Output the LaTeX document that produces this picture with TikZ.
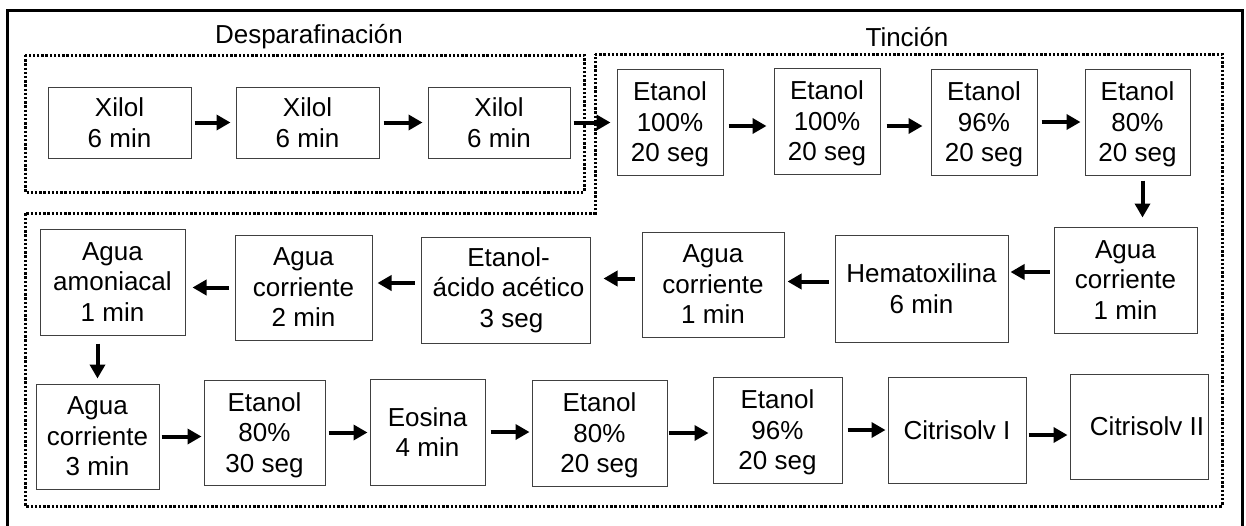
\documentclass[tikz,border=0pt]{standalone}
\usepackage{fontspec}
\setmainfont{Liberation Sans}
\usetikzlibrary{arrows.meta,calc}
\begin{document}
\begin{tikzpicture}[x=1pt,y=-1pt,
  stepbox/.style={draw=black!75,line width=1pt,align=center,inner sep=0pt,
    font={\fontsize{26}{30.5}\selectfont}},
  title/.style={font={\fontsize{26}{30.5}\selectfont}},
  frame/.style={line width=3pt,black},
  group/.style={line width=3pt,dash pattern=on 2.4pt off 1.8pt},
  arr/.style={line width=4pt,-{Triangle[length=14pt,width=15pt]}}]
\useasboundingbox (0,0) rectangle (1246,525);
% outer frame (bottom edge outside the picture)
\draw[frame] (7.5,527) -- (7.5,10) -- (1242,10) -- (1242,527);
% groups
\draw[group] (25,55) rectangle (584,192);
\draw[group] (595,54) -- (1222,54) -- (1222,506) -- (25,506) -- (25,213) -- (595,213) -- cycle;
\node[title] (t1) at (309,37) {Desparafinación};
\node[title] (t2) at (907,37) {Tinción};
% row 1
\node[stepbox,minimum width=143pt,minimum height=71pt] (x1) at (119.5,122.5) {Xilol\\6 min};
\node[stepbox,minimum width=143pt,minimum height=71pt] (x2) at (307.5,122.5) {Xilol\\6 min};
\node[stepbox,minimum width=142pt,minimum height=71pt] (x3) at (499,122.5) {Xilol\\6 min};
\node[stepbox,minimum width=106pt,minimum height=106pt,text depth=0pt] (e1) at (670,122) {Etanol\\100\%\\20 seg};
\node[stepbox,minimum width=106pt,minimum height=106pt,text depth=0pt] (e2) at (827,121) {Etanol\\100\%\\20 seg};
\node[stepbox,minimum width=106pt,minimum height=106pt,text depth=0pt] (e3) at (984,122) {Etanol\\96\%\\20 seg};
\node[stepbox,minimum width=105pt,minimum height=106pt,text depth=0pt] (e4) at (1137.5,122) {Etanol\\80\%\\20 seg};
% row 2
\node[stepbox,minimum width=143pt,minimum height=106pt] (a1) at (1125.5,280) {Agua\\corriente\\1 min};
\node[stepbox,minimum width=173pt,minimum height=107pt] (hx) at (921.5,288.5) {Hematoxilina\\6 min};
\node[stepbox,minimum width=142pt,minimum height=105pt] (a2) at (713,284.5) {Agua\\corriente\\1 min};
\node[stepbox,minimum width=169pt,minimum height=106pt] (ea) at (505.5,290) {\hspace*{6pt}Etanol-\\\hspace*{6pt}ácido acético\\\hspace*{12pt}3 seg};
\node[stepbox,minimum width=137pt,minimum height=105pt] (a3) at (303.5,287.5) {Agua\\corriente\\2 min};
\node[stepbox,minimum width=145pt,minimum height=106pt] (am) at (112.5,282) {Agua\\amoniacal\\1 min};
% row 3
\node[stepbox,minimum width=123pt,minimum height=105pt] (a4) at (97.5,436.5) {Agua\\corriente\\3 min};
\node[stepbox,minimum width=121pt,minimum height=105pt,text depth=0pt] (f1) at (264.5,432.5) {Etanol\\80\%\\30 seg};
\node[stepbox,minimum width=115pt,minimum height=106pt] (eo) at (427.5,432) {Eosina\\4 min};
\node[stepbox,minimum width=135pt,minimum height=106pt,text depth=0pt] (f2) at (599.5,433) {Etanol\\80\%\\20 seg};
\node[stepbox,minimum width=129pt,minimum height=106pt,text depth=0pt] (f3) at (777.5,430) {Etanol\\96\%\\20 seg};
\node[stepbox,minimum width=138pt,minimum height=106pt] (c1) at (957,430) {Citrisolv I};
\node[stepbox,minimum width=138pt,minimum height=105pt] (c2) at (1139,426.5) {\hspace*{16pt}Citrisolv II};
% arrows row 1
\draw[arr,shorten <=3pt,shorten >=5pt] (x1.east) -- (x1.east -| x2.west);
\draw[arr,shorten <=4pt,shorten >=5pt] (x2.east) -- (x2.east -| x3.west);
\draw[arr,shorten <=3pt,shorten >=6pt] (x3.east) -- (x3.east -| e1.west);
\draw[arr,shorten <=5pt,shorten >=7pt] ($(e1.east)+(0,4)$) -- ($(e1.east -| e2.west)+(0,4)$);
\draw[arr,shorten <=6pt,shorten >=8pt] ($(e2.east)+(0,5)$) -- ($(e2.east -| e3.west)+(0,5)$);
\draw[arr,shorten <=4pt,shorten >=4pt] (e3.east) -- (e3.east -| e4.west);
\draw[arr,shorten <=5pt,shorten >=9pt] ($(e4.south)+(5,0)$) -- ($(e4.south |- a1.north)+(5,0)$);
% arrows row 2
\draw[arr,shorten <=4pt,shorten >=2pt] ($(a1.west)+(0,-8)$) -- ($(a1.west -| hx.east)+(0,-8)$);
\draw[arr,shorten <=6pt,shorten >=3pt] ($(hx.west)+(0,-7)$) -- ($(hx.west -| a2.east)+(0,-7)$);
\draw[arr,shorten <=7pt,shorten >=13pt] ($(a2.west)+(0,-6)$) -- ($(a2.west -| ea.east)+(0,-6)$);
\draw[arr,shorten <=6pt,shorten >=5pt] ($(ea.west)+(0,-7)$) -- ($(ea.west -| a3.east)+(0,-7)$);
\draw[arr,shorten <=6pt,shorten >=7pt] (a3.west) -- (a3.west -| am.east);
\draw[arr,shorten <=8pt,shorten >=5pt] (am.south -| a4.north) -- (a4.north);
% arrows row 3
\draw[arr,shorten <=2pt,shorten >=2pt] (a4.east) -- (a4.east -| f1.west);
\draw[arr,shorten <=3pt,shorten >=2pt] (f1.east) -- (f1.east -| eo.west);
\draw[arr,shorten <=5pt,shorten >=2pt] (eo.east) -- (eo.east -| f2.west);
\draw[arr,shorten <=1pt,shorten >=4pt] (f2.east) -- (f2.east -| f3.west);
\draw[arr,shorten <=5pt,shorten >=2pt] (f3.east) -- (f3.east -| c1.west);
\draw[arr,shorten <=2pt,shorten >=2pt] ($(c1.east)+(0,5)$) -- ($(c1.east -| c2.west)+(0,5)$);
\end{tikzpicture}
\end{document}
